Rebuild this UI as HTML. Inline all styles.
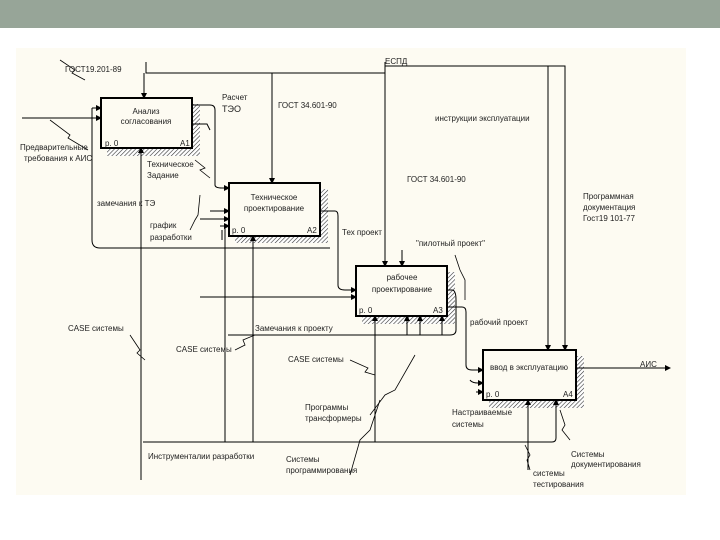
<!DOCTYPE html>
<html><head><meta charset="utf-8"><style>
html,body{margin:0;padding:0;background:#fff;}
svg{display:block;}
text{font-family:"Liberation Sans","DejaVu Sans",sans-serif;font-size:8px;fill:#222;}
</style></head><body>
<svg width="720" height="540" viewBox="0 0 720 540" xmlns="http://www.w3.org/2000/svg">
<defs>
<pattern id="h" width="3" height="3" patternUnits="userSpaceOnUse" patternTransform="rotate(45)"><rect width="3" height="3" fill="#fff"/><line x1="0" y1="0" x2="0" y2="3" stroke="#333" stroke-width="1.2"/></pattern>
<marker id="a" markerWidth="6" markerHeight="6" refX="5" refY="3" orient="auto"><path d="M0,0 L6,3 L0,6z" fill="#000"/></marker>
</defs>
<rect x="0" y="0" width="720" height="28" fill="#97a598"/>
<rect x="16" y="48" width="670" height="447" fill="#fdfbf2"/>
<g fill="none" stroke="#000" stroke-width="1">
<rect x="192" y="104" width="8" height="52" fill="url(#h)" stroke="none"/>
<rect x="107" y="148" width="93" height="8" fill="url(#h)" stroke="none"/>
<rect x="320" y="189" width="8" height="54" fill="url(#h)" stroke="none"/>
<rect x="235" y="236" width="93" height="7" fill="url(#h)" stroke="none"/>
<rect x="447" y="272" width="8" height="52" fill="url(#h)" stroke="none"/>
<rect x="362" y="316" width="93" height="8" fill="url(#h)" stroke="none"/>
<rect x="576" y="356" width="8" height="52" fill="url(#h)" stroke="none"/>
<rect x="489" y="400" width="95" height="8" fill="url(#h)" stroke="none"/>
<rect x="101" y="98" width="91" height="50" fill="#fdfbf2" stroke-width="2"/>
<rect x="229" y="183" width="91" height="53" fill="#fdfbf2" stroke-width="2"/>
<rect x="356" y="266" width="91" height="50" fill="#fdfbf2" stroke-width="2"/>
<rect x="483" y="350" width="93" height="50" fill="#fdfbf2" stroke-width="2"/>
<path d="M146,62 V73 H385"/>
<path d="M144,73 V98" marker-end="url(#a)"/>
<path d="M272,73 V183" marker-end="url(#a)"/>
<path d="M385,62 V66 H565 V350" marker-end="url(#a)"/>
<path d="M385,66 V266" marker-end="url(#a)"/>
<path d="M548,66 V350" marker-end="url(#a)"/>
<path d="M402,250 V266" marker-end="url(#a)"/>
<path d="M22,118 H101" marker-end="url(#a)"/>
<path d="M92,108 H101" marker-end="url(#a)"/>
<path d="M192,105 H210 Q215,105 215,110 V185 Q215,188 222,188 H229" marker-end="url(#a)"/>
<path d="M192,124 H207 L210,130"/>
<path d="M92,108 V240 Q92,248 100,248 H330"/>
<path d="M141,152 V480"/>
<path d="M141,160 V148" marker-end="url(#a)"/>
<path d="M210,211 H229" marker-end="url(#a)"/>
<path d="M200,219 H229" marker-end="url(#a)"/>
<path d="M220,226 H229" marker-end="url(#a)"/>
<path d="M222,230 V240"/>
<path d="M225,226 V442"/>
<path d="M320,211 H335 Q338,211 338,216 V285 Q338,290 345,290 H356" marker-end="url(#a)"/>
<path d="M200,297 H356" marker-end="url(#a)"/>
<path d="M447,290 H452 Q456,290 456,300 V330 Q456,335 450,335 H228"/>
<path d="M447,307 H462 Q466,307 466,312 V365 Q466,370 472,370 H483" marker-end="url(#a)"/>
<path d="M470,380 Q472,383 478,383 H483" marker-end="url(#a)"/>
<path d="M476,392 H483" marker-end="url(#a)"/>
<path d="M375,442 V316" marker-end="url(#a)"/>
<path d="M407,335 V316" marker-end="url(#a)"/>
<path d="M420,335 V316" marker-end="url(#a)"/>
<path d="M442,335 V316" marker-end="url(#a)"/>
<path d="M143,442 H552 Q556,442 556,438 V400" marker-end="url(#a)"/>
<path d="M528,470 V400" marker-end="url(#a)"/>
<path d="M253,442 V240"/>
<path d="M253,248 V236" marker-end="url(#a)"/>
<path d="M576,368 H670" marker-end="url(#a)"/>
<path d="M60,60 L75,70 L72,73 L85,80" stroke-width="0.8"/>
<path d="M50,120 L70,135 L68,138 L88,150" stroke-width="0.8"/>
<path d="M195,160 L205,168 L200,170 L210,178" stroke-width="0.8"/>
<path d="M200,195 L198,215 L195,220 L190,230" stroke-width="0.8"/>
<path d="M130,335 L140,350 L137,353 L145,360" stroke-width="0.8"/>
<path d="M235,350 L245,345 L243,340 L255,335" stroke-width="0.8"/>
<path d="M350,360 L368,368 L365,372 L375,375" stroke-width="0.8"/>
<path d="M415,355 L395,390 L385,395 L370,415" stroke-width="0.8"/>
<path d="M380,400 L370,430 L360,440 L350,475" stroke-width="0.8"/>
<path d="M455,255 L460,270 L465,280 L465,300" stroke-width="0.8"/>
<path d="M525,445 L530,455 L527,460 L530,470" stroke-width="0.8"/>
<path d="M560,410 L565,425 L562,430 L570,440" stroke-width="0.8"/>
</g>
<g>
<text x="146" y="114" text-anchor="middle">Анализ</text>
<text x="146" y="124" text-anchor="middle">согласования</text>
<text x="105" y="146">р. 0</text><text x="180" y="146">А1</text>
<text x="274" y="200" text-anchor="middle">Техническое</text>
<text x="274" y="211" text-anchor="middle">проектирование</text>
<text x="232" y="233">р. 0</text><text x="307" y="233">А2</text>
<text x="402" y="280" text-anchor="middle">рабочее</text>
<text x="402" y="292" text-anchor="middle">проектирование</text>
<text x="359" y="313">р. 0</text><text x="433" y="313">А3</text>
<text x="529" y="370" text-anchor="middle">ввод в эксплуатацию</text>
<text x="486" y="397">р. 0</text><text x="563" y="397">А4</text>
<text x="65" y="72">ГОСТ19.201-89</text>
<text x="385" y="64">ЕСПД</text>
<text x="222" y="100">Расчет</text>
<text x="222" y="112" style="font-size:9px">ТЭО</text>
<text x="278" y="108">ГОСТ 34.601-90</text>
<text x="435" y="121">инструкции эксплуатации</text>
<text x="407" y="182">ГОСТ 34.601-90</text>
<text x="20" y="150">Предварительные</text>
<text x="24" y="161">требования к АИС</text>
<text x="147" y="167">Техническое</text>
<text x="147" y="178">Задание</text>
<text x="97" y="206">замечания к ТЭ</text>
<text x="150" y="228">график</text>
<text x="150" y="240">разработки</text>
<text x="342" y="235">Тех проект</text>
<text x="416" y="246">"пилотный проект"</text>
<text x="583" y="199">Программная</text>
<text x="583" y="210">документация</text>
<text x="583" y="221">Гост19 101-77</text>
<text x="470" y="325">рабочий проект</text>
<text x="255" y="331">Замечания к проекту</text>
<text x="68" y="331">CASE системы</text>
<text x="176" y="352">CASE системы</text>
<text x="288" y="362">CASE системы</text>
<text x="640" y="367">АИС</text>
<text x="305" y="410">Программы</text>
<text x="305" y="421">трансформеры</text>
<text x="452" y="415">Настраиваемые</text>
<text x="452" y="427">системы</text>
<text x="148" y="459">Инструменталии разработки</text>
<text x="286" y="462">Системы</text>
<text x="286" y="473">программирования</text>
<text x="571" y="457">Системы</text>
<text x="571" y="467">документирования</text>
<text x="533" y="476">системы</text>
<text x="533" y="487">тестирования</text>
</g>
</svg>
</body></html>
